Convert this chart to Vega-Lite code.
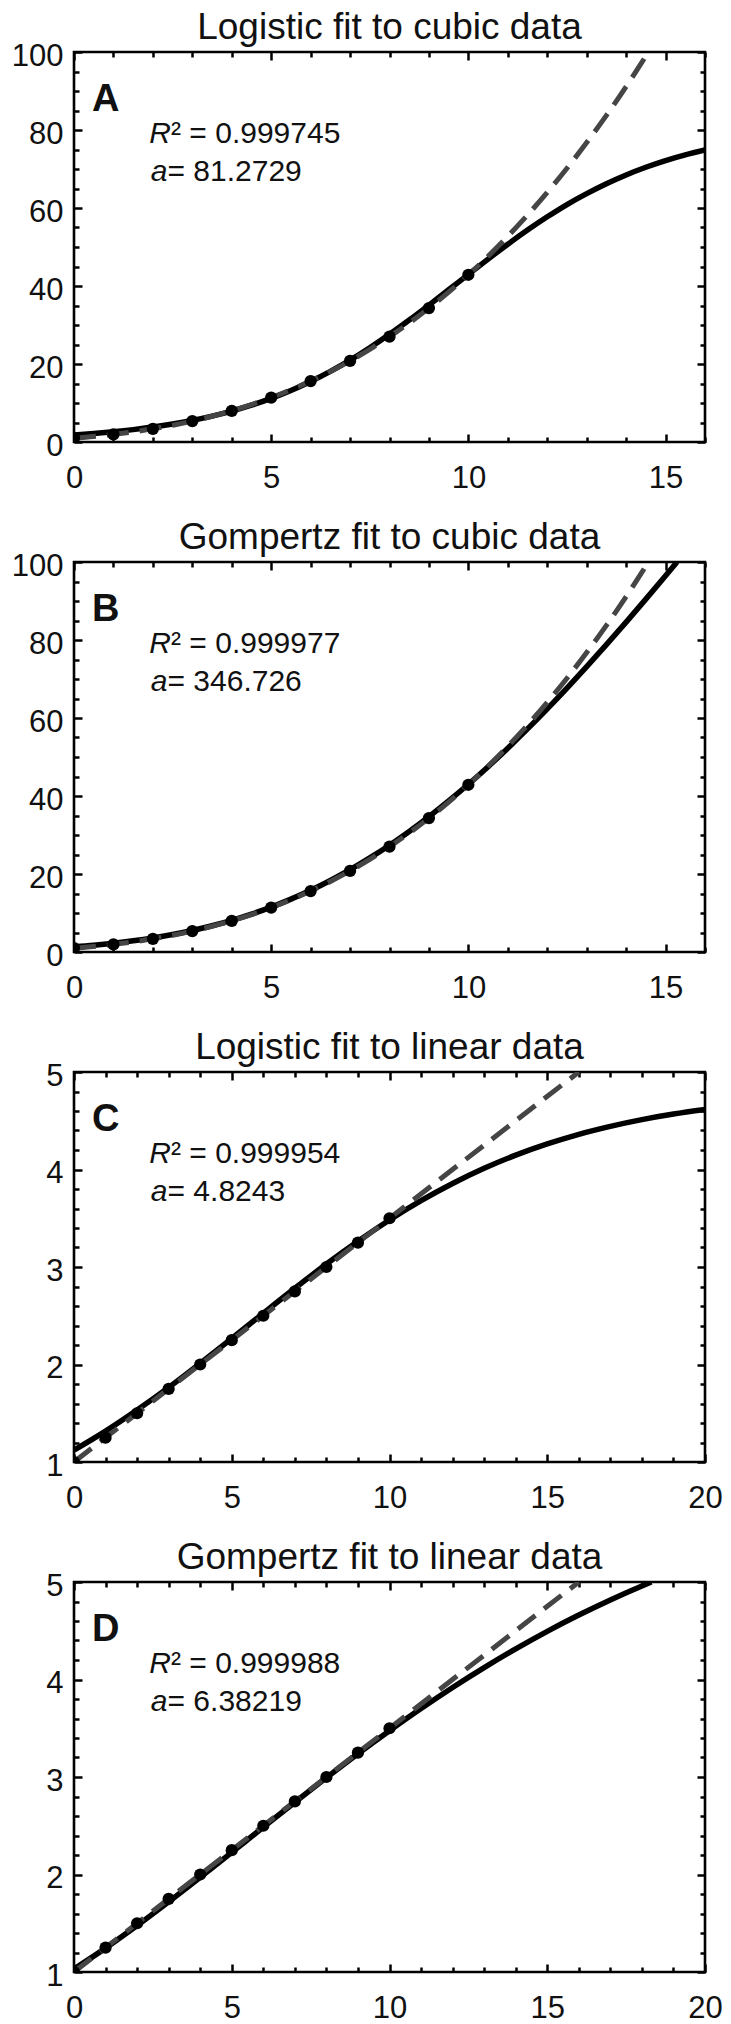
{
  "$schema": "https://vega.github.io/schema/vega-lite/v6.json",
  "background": "white",
  "padding": {"left": 9, "top": 7, "right": 5, "bottom": 5},
  "datasets": {
    "cubic": [{"x":0,"y":1},{"x":1,"y":1.953},{"x":2,"y":3.375},{"x":3,"y":5.359},{"x":4,"y":8},{"x":5,"y":11.391},{"x":6,"y":15.625},{"x":7,"y":20.797},{"x":8,"y":27},{"x":9,"y":34.328},{"x":10,"y":42.875}],
    "linear": [{"x":0,"y":1},{"x":1,"y":1.25},{"x":2,"y":1.5},{"x":3,"y":1.75},{"x":4,"y":2},{"x":5,"y":2.25},{"x":6,"y":2.5},{"x":7,"y":2.75},{"x":8,"y":3},{"x":9,"y":3.25},{"x":10,"y":3.5}],
    "cubicTrue": [{"x":0,"y":1},{"x":0.5,"y":1.424},{"x":1,"y":1.953},{"x":1.5,"y":2.6},{"x":2,"y":3.375},{"x":2.5,"y":4.291},{"x":3,"y":5.359},{"x":3.5,"y":6.592},{"x":4,"y":8},{"x":4.5,"y":9.596},{"x":5,"y":11.391},{"x":5.5,"y":13.396},{"x":6,"y":15.625},{"x":6.5,"y":18.088},{"x":7,"y":20.797},{"x":7.5,"y":23.764},{"x":8,"y":27},{"x":8.5,"y":30.518},{"x":9,"y":34.328},{"x":9.5,"y":38.443},{"x":10,"y":42.875},{"x":10.5,"y":47.635},{"x":11,"y":52.734},{"x":11.5,"y":58.186},{"x":12,"y":64},{"x":12.5,"y":70.189},{"x":13,"y":76.766},{"x":13.5,"y":83.74},{"x":14,"y":91.125},{"x":14.5,"y":98.931},{"x":14.57,"y":100}],
    "linearTrue": [{"x":0,"y":1},{"x":16,"y":5}],
    "fitA": [{"x":0,"y":1.8},{"x":0.5,"y":2.178},{"x":1,"y":2.632},{"x":1.5,"y":3.177},{"x":2,"y":3.83},{"x":2.5,"y":4.607},{"x":3,"y":5.532},{"x":3.5,"y":6.629},{"x":4,"y":7.919},{"x":4.5,"y":9.428},{"x":5,"y":11.18},{"x":5.5,"y":13.2},{"x":6,"y":15.5},{"x":6.5,"y":18.1},{"x":7,"y":20.99},{"x":7.5,"y":24.17},{"x":8,"y":27.61},{"x":8.5,"y":31.27},{"x":9,"y":35.11},{"x":9.5,"y":39.03},{"x":10,"y":43},{"x":10.5,"y":46.91},{"x":11,"y":50.71},{"x":11.5,"y":54.34},{"x":12,"y":57.74},{"x":12.5,"y":60.89},{"x":13,"y":63.69},{"x":13.5,"y":66.23},{"x":14,"y":68.48},{"x":14.5,"y":70.44},{"x":15,"y":72.15},{"x":15.5,"y":73.61},{"x":16,"y":74.87}],
    "fitB": [{"x":0,"y":1.34},{"x":0.5,"y":1.748},{"x":1,"y":2.252},{"x":1.5,"y":2.865},{"x":2,"y":3.601},{"x":2.5,"y":4.479},{"x":3,"y":5.512},{"x":3.5,"y":6.722},{"x":4,"y":8.112},{"x":4.5,"y":9.709},{"x":5,"y":11.52},{"x":5.5,"y":13.55},{"x":6,"y":15.82},{"x":6.5,"y":18.34},{"x":7,"y":21.1},{"x":7.5,"y":24.12},{"x":8,"y":27.39},{"x":8.5,"y":30.92},{"x":9,"y":34.71},{"x":9.5,"y":38.74},{"x":10,"y":43.01},{"x":10.5,"y":47.52},{"x":11,"y":52.26},{"x":11.5,"y":57.2},{"x":12,"y":62.34},{"x":12.5,"y":67.67},{"x":13,"y":73.16},{"x":13.5,"y":78.8},{"x":14,"y":84.59},{"x":14.5,"y":90.49},{"x":15,"y":96.47},{"x":15.29,"y":100}],
    "fitC": [{"x":0,"y":1.122},{"x":1,"y":1.317},{"x":2,"y":1.533},{"x":3,"y":1.765},{"x":4,"y":2.012},{"x":5,"y":2.267},{"x":6,"y":2.526},{"x":7,"y":2.782},{"x":8,"y":3.03},{"x":9,"y":3.264},{"x":10,"y":3.482},{"x":11,"y":3.68},{"x":12,"y":3.856},{"x":13,"y":4.012},{"x":14,"y":4.147},{"x":15,"y":4.262},{"x":16,"y":4.361},{"x":17,"y":4.443},{"x":18,"y":4.512},{"x":19,"y":4.569},{"x":20,"y":4.616}],
    "fitD": [{"x":0,"y":1.03},{"x":1,"y":1.245},{"x":2,"y":1.476},{"x":3,"y":1.719},{"x":4,"y":1.97},{"x":5,"y":2.227},{"x":6,"y":2.485},{"x":7,"y":2.741},{"x":8,"y":2.993},{"x":9,"y":3.239},{"x":10,"y":3.475},{"x":11,"y":3.702},{"x":12,"y":3.918},{"x":13,"y":4.122},{"x":14,"y":4.314},{"x":15,"y":4.494},{"x":16,"y":4.661},{"x":17,"y":4.816},{"x":18,"y":4.959},{"x":18.3,"y":5}],
    "ann": [
      {"panel":"A","role":"letter","x":0.456,"y":84.87,"text":"A"},
      {"panel":"A","role":"lab","x":2.46,"y":76.67,"text":"R"},
      {"panel":"A","role":"val","x":2.46,"y":76.67,"text":"² = 0.999745"},
      {"panel":"A","role":"lab","x":2.371,"y":66.92,"text":"a"},
      {"panel":"A","role":"val","x":2.371,"y":66.92,"text":"= 81.2729"},
      {"panel":"B","role":"letter","x":0.456,"y":84.87,"text":"B"},
      {"panel":"B","role":"lab","x":2.46,"y":76.67,"text":"R"},
      {"panel":"B","role":"val","x":2.46,"y":76.67,"text":"² = 0.999977"},
      {"panel":"B","role":"lab","x":2.371,"y":66.92,"text":"a"},
      {"panel":"B","role":"val","x":2.371,"y":66.92,"text":"= 346.726"},
      {"panel":"C","role":"letter","x":0.57,"y":4.395,"text":"C"},
      {"panel":"C","role":"lab","x":3.074,"y":4.067,"text":"R"},
      {"panel":"C","role":"val","x":3.074,"y":4.067,"text":"² = 0.999954"},
      {"panel":"C","role":"lab","x":2.964,"y":3.677,"text":"a"},
      {"panel":"C","role":"val","x":2.964,"y":3.677,"text":"= 4.8243"},
      {"panel":"D","role":"letter","x":0.57,"y":4.395,"text":"D"},
      {"panel":"D","role":"lab","x":3.074,"y":4.067,"text":"R"},
      {"panel":"D","role":"val","x":3.074,"y":4.067,"text":"² = 0.999988"},
      {"panel":"D","role":"lab","x":2.964,"y":3.677,"text":"a"},
      {"panel":"D","role":"val","x":2.964,"y":3.677,"text":"= 6.38219"}
    ]
  },
  "spacing": 120,
  "bounds": "flush",
  "vconcat": [
    {
      "title": {"text": "Logistic fit to cubic data"},
      "width": 631, "height": 390,
      "layer": [
        {"data": {"name": "fitA"}, "mark": {"type": "line", "color": "#000", "strokeWidth": 5.5, "clip": true, "interpolate": "monotone"},
         "encoding": {
           "x": {"field": "x", "type": "quantitative", "scale": {"domain": [0, 16], "nice": false, "zero": false},
                 "axis": {"orient": "bottom", "values": [0,1,2,3,4,5,6,7,8,9,10,11,12,13,14,15,16], "tickSize": {"condition": {"test": "datum.value % 5 !== 0", "value": -5}, "value": -8}, "labelExpr": "datum.value % 5 === 0 ? datum.label : ''", "labelPadding": 29}},
           "y": {"field": "y", "type": "quantitative", "scale": {"domain": [0, 100], "nice": false, "zero": false},
                 "axis": {"orient": "left", "values": [0,5,10,15,20,25,30,35,40,45,50,55,60,65,70,75,80,85,90,95,100], "tickSize": {"condition": {"test": "datum.value % 20 !== 0", "value": -5}, "value": -8}, "labelExpr": "datum.value % 20 === 0 ? datum.label : ''", "labelPadding": 19, "labelOffset": 4}}
         }},
        {"data": {"name": "cubicTrue"}, "mark": {"type": "line", "color": "#454545", "strokeWidth": 5, "strokeDash": [22, 11], "clip": true, "interpolate": "monotone"},
         "encoding": {
           "x": {"field": "x", "type": "quantitative", "axis": {"orient": "top", "values": [0,1,2,3,4,5,6,7,8,9,10,11,12,13,14,15,16], "tickSize": {"condition": {"test": "datum.value % 5 !== 0", "value": -5}, "value": -8}, "labels": false}},
           "y": {"field": "y", "type": "quantitative", "axis": {"orient": "right", "values": [0,5,10,15,20,25,30,35,40,45,50,55,60,65,70,75,80,85,90,95,100], "tickSize": {"condition": {"test": "datum.value % 20 !== 0", "value": -5}, "value": -8}, "labels": false}}
         }},
        {"data": {"name": "cubic"}, "mark": {"type": "circle", "size": 150, "opacity": 1, "color": "#000", "clip": true},
         "encoding": {"x": {"field": "x", "type": "quantitative", "axis": null}, "y": {"field": "y", "type": "quantitative", "axis": null}}},
        {"data": {"name": "ann"}, "transform": [{"filter": "datum.panel === 'A' && datum.role === 'letter'"}],
         "mark": {"type": "text", "font": "Liberation Sans", "fontWeight": "bold", "fontSize": 38, "align": "left", "baseline": "alphabetic", "color": "#111"},
         "encoding": {"x": {"field": "x", "type": "quantitative", "axis": null}, "y": {"field": "y", "type": "quantitative", "axis": null}, "text": {"field": "text"}}},
        {"data": {"name": "ann"}, "transform": [{"filter": "datum.panel === 'A' && datum.role === 'lab'"}],
         "mark": {"type": "text", "font": "Liberation Sans", "fontStyle": "italic", "fontSize": 30, "align": "right", "baseline": "alphabetic", "color": "#111"},
         "encoding": {"x": {"field": "x", "type": "quantitative", "axis": null}, "y": {"field": "y", "type": "quantitative", "axis": null}, "text": {"field": "text"}}},
        {"data": {"name": "ann"}, "transform": [{"filter": "datum.panel === 'A' && datum.role === 'val'"}],
         "mark": {"type": "text", "font": "Liberation Sans", "fontSize": 30, "align": "left", "baseline": "alphabetic", "color": "#111"},
         "encoding": {"x": {"field": "x", "type": "quantitative", "axis": null}, "y": {"field": "y", "type": "quantitative", "axis": null}, "text": {"field": "text"}}}
      ]
    },
    {
      "title": {"text": "Gompertz fit to cubic data"},
      "width": 631, "height": 390,
      "layer": [
        {"data": {"name": "fitB"}, "mark": {"type": "line", "color": "#000", "strokeWidth": 5.5, "clip": true, "interpolate": "monotone"},
         "encoding": {
           "x": {"field": "x", "type": "quantitative", "scale": {"domain": [0, 16], "nice": false, "zero": false},
                 "axis": {"orient": "bottom", "values": [0,1,2,3,4,5,6,7,8,9,10,11,12,13,14,15,16], "tickSize": {"condition": {"test": "datum.value % 5 !== 0", "value": -5}, "value": -8}, "labelExpr": "datum.value % 5 === 0 ? datum.label : ''", "labelPadding": 29}},
           "y": {"field": "y", "type": "quantitative", "scale": {"domain": [0, 100], "nice": false, "zero": false},
                 "axis": {"orient": "left", "values": [0,5,10,15,20,25,30,35,40,45,50,55,60,65,70,75,80,85,90,95,100], "tickSize": {"condition": {"test": "datum.value % 20 !== 0", "value": -5}, "value": -8}, "labelExpr": "datum.value % 20 === 0 ? datum.label : ''", "labelPadding": 19, "labelOffset": 4}}
         }},
        {"data": {"name": "cubicTrue"}, "mark": {"type": "line", "color": "#454545", "strokeWidth": 5, "strokeDash": [22, 11], "clip": true, "interpolate": "monotone"},
         "encoding": {
           "x": {"field": "x", "type": "quantitative", "axis": {"orient": "top", "values": [0,1,2,3,4,5,6,7,8,9,10,11,12,13,14,15,16], "tickSize": {"condition": {"test": "datum.value % 5 !== 0", "value": -5}, "value": -8}, "labels": false}},
           "y": {"field": "y", "type": "quantitative", "axis": {"orient": "right", "values": [0,5,10,15,20,25,30,35,40,45,50,55,60,65,70,75,80,85,90,95,100], "tickSize": {"condition": {"test": "datum.value % 20 !== 0", "value": -5}, "value": -8}, "labels": false}}
         }},
        {"data": {"name": "cubic"}, "mark": {"type": "circle", "size": 150, "opacity": 1, "color": "#000", "clip": true},
         "encoding": {"x": {"field": "x", "type": "quantitative", "axis": null}, "y": {"field": "y", "type": "quantitative", "axis": null}}},
        {"data": {"name": "ann"}, "transform": [{"filter": "datum.panel === 'B' && datum.role === 'letter'"}],
         "mark": {"type": "text", "font": "Liberation Sans", "fontWeight": "bold", "fontSize": 38, "align": "left", "baseline": "alphabetic", "color": "#111"},
         "encoding": {"x": {"field": "x", "type": "quantitative", "axis": null}, "y": {"field": "y", "type": "quantitative", "axis": null}, "text": {"field": "text"}}},
        {"data": {"name": "ann"}, "transform": [{"filter": "datum.panel === 'B' && datum.role === 'lab'"}],
         "mark": {"type": "text", "font": "Liberation Sans", "fontStyle": "italic", "fontSize": 30, "align": "right", "baseline": "alphabetic", "color": "#111"},
         "encoding": {"x": {"field": "x", "type": "quantitative", "axis": null}, "y": {"field": "y", "type": "quantitative", "axis": null}, "text": {"field": "text"}}},
        {"data": {"name": "ann"}, "transform": [{"filter": "datum.panel === 'B' && datum.role === 'val'"}],
         "mark": {"type": "text", "font": "Liberation Sans", "fontSize": 30, "align": "left", "baseline": "alphabetic", "color": "#111"},
         "encoding": {"x": {"field": "x", "type": "quantitative", "axis": null}, "y": {"field": "y", "type": "quantitative", "axis": null}, "text": {"field": "text"}}}
      ]
    },
    {
      "title": {"text": "Logistic fit to linear data"},
      "width": 631, "height": 390,
      "layer": [
        {"data": {"name": "fitC"}, "mark": {"type": "line", "color": "#000", "strokeWidth": 5.5, "clip": true, "interpolate": "monotone"},
         "encoding": {
           "x": {"field": "x", "type": "quantitative", "scale": {"domain": [0, 20], "nice": false, "zero": false},
                 "axis": {"orient": "bottom", "values": [0,1,2,3,4,5,6,7,8,9,10,11,12,13,14,15,16,17,18,19,20], "tickSize": {"condition": {"test": "datum.value % 5 !== 0", "value": -5}, "value": -8}, "labelExpr": "datum.value % 5 === 0 ? datum.label : ''", "labelPadding": 29}},
           "y": {"field": "y", "type": "quantitative", "scale": {"domain": [1, 5], "nice": false, "zero": false},
                 "axis": {"orient": "left", "values": [1,1.2,1.4,1.6,1.8,2,2.2,2.4,2.6,2.8,3,3.2,3.4,3.6,3.8,4,4.2,4.4,4.6,4.8,5], "tickSize": {"condition": {"test": "abs(datum.value - round(datum.value)) > 0.001", "value": -5}, "value": -8}, "labelExpr": "abs(datum.value - round(datum.value)) < 0.001 ? '' + round(datum.value) : ''", "labelPadding": 19, "labelOffset": 4}}
         }},
        {"data": {"name": "linearTrue"}, "mark": {"type": "line", "color": "#454545", "strokeWidth": 5, "strokeDash": [22, 11], "clip": true},
         "encoding": {
           "x": {"field": "x", "type": "quantitative", "axis": {"orient": "top", "values": [0,1,2,3,4,5,6,7,8,9,10,11,12,13,14,15,16,17,18,19,20], "tickSize": {"condition": {"test": "datum.value % 5 !== 0", "value": -5}, "value": -8}, "labels": false}},
           "y": {"field": "y", "type": "quantitative", "axis": {"orient": "right", "values": [1,1.2,1.4,1.6,1.8,2,2.2,2.4,2.6,2.8,3,3.2,3.4,3.6,3.8,4,4.2,4.4,4.6,4.8,5], "tickSize": {"condition": {"test": "abs(datum.value - round(datum.value)) > 0.001", "value": -5}, "value": -8}, "labels": false}}
         }},
        {"data": {"name": "linear"}, "mark": {"type": "circle", "size": 150, "opacity": 1, "color": "#000", "clip": true},
         "encoding": {"x": {"field": "x", "type": "quantitative", "axis": null}, "y": {"field": "y", "type": "quantitative", "axis": null}}},
        {"data": {"name": "ann"}, "transform": [{"filter": "datum.panel === 'C' && datum.role === 'letter'"}],
         "mark": {"type": "text", "font": "Liberation Sans", "fontWeight": "bold", "fontSize": 38, "align": "left", "baseline": "alphabetic", "color": "#111"},
         "encoding": {"x": {"field": "x", "type": "quantitative", "axis": null}, "y": {"field": "y", "type": "quantitative", "axis": null}, "text": {"field": "text"}}},
        {"data": {"name": "ann"}, "transform": [{"filter": "datum.panel === 'C' && datum.role === 'lab'"}],
         "mark": {"type": "text", "font": "Liberation Sans", "fontStyle": "italic", "fontSize": 30, "align": "right", "baseline": "alphabetic", "color": "#111"},
         "encoding": {"x": {"field": "x", "type": "quantitative", "axis": null}, "y": {"field": "y", "type": "quantitative", "axis": null}, "text": {"field": "text"}}},
        {"data": {"name": "ann"}, "transform": [{"filter": "datum.panel === 'C' && datum.role === 'val'"}],
         "mark": {"type": "text", "font": "Liberation Sans", "fontSize": 30, "align": "left", "baseline": "alphabetic", "color": "#111"},
         "encoding": {"x": {"field": "x", "type": "quantitative", "axis": null}, "y": {"field": "y", "type": "quantitative", "axis": null}, "text": {"field": "text"}}}
      ]
    },
    {
      "title": {"text": "Gompertz fit to linear data"},
      "width": 631, "height": 390,
      "layer": [
        {"data": {"name": "fitD"}, "mark": {"type": "line", "color": "#000", "strokeWidth": 5.5, "clip": true, "interpolate": "monotone"},
         "encoding": {
           "x": {"field": "x", "type": "quantitative", "scale": {"domain": [0, 20], "nice": false, "zero": false},
                 "axis": {"orient": "bottom", "values": [0,1,2,3,4,5,6,7,8,9,10,11,12,13,14,15,16,17,18,19,20], "tickSize": {"condition": {"test": "datum.value % 5 !== 0", "value": -5}, "value": -8}, "labelExpr": "datum.value % 5 === 0 ? datum.label : ''", "labelPadding": 29}},
           "y": {"field": "y", "type": "quantitative", "scale": {"domain": [1, 5], "nice": false, "zero": false},
                 "axis": {"orient": "left", "values": [1,1.2,1.4,1.6,1.8,2,2.2,2.4,2.6,2.8,3,3.2,3.4,3.6,3.8,4,4.2,4.4,4.6,4.8,5], "tickSize": {"condition": {"test": "abs(datum.value - round(datum.value)) > 0.001", "value": -5}, "value": -8}, "labelExpr": "abs(datum.value - round(datum.value)) < 0.001 ? '' + round(datum.value) : ''", "labelPadding": 19, "labelOffset": 4}}
         }},
        {"data": {"name": "linearTrue"}, "mark": {"type": "line", "color": "#454545", "strokeWidth": 5, "strokeDash": [22, 11], "clip": true},
         "encoding": {
           "x": {"field": "x", "type": "quantitative", "axis": {"orient": "top", "values": [0,1,2,3,4,5,6,7,8,9,10,11,12,13,14,15,16,17,18,19,20], "tickSize": {"condition": {"test": "datum.value % 5 !== 0", "value": -5}, "value": -8}, "labels": false}},
           "y": {"field": "y", "type": "quantitative", "axis": {"orient": "right", "values": [1,1.2,1.4,1.6,1.8,2,2.2,2.4,2.6,2.8,3,3.2,3.4,3.6,3.8,4,4.2,4.4,4.6,4.8,5], "tickSize": {"condition": {"test": "abs(datum.value - round(datum.value)) > 0.001", "value": -5}, "value": -8}, "labels": false}}
         }},
        {"data": {"name": "linear"}, "mark": {"type": "circle", "size": 150, "opacity": 1, "color": "#000", "clip": true},
         "encoding": {"x": {"field": "x", "type": "quantitative", "axis": null}, "y": {"field": "y", "type": "quantitative", "axis": null}}},
        {"data": {"name": "ann"}, "transform": [{"filter": "datum.panel === 'D' && datum.role === 'letter'"}],
         "mark": {"type": "text", "font": "Liberation Sans", "fontWeight": "bold", "fontSize": 38, "align": "left", "baseline": "alphabetic", "color": "#111"},
         "encoding": {"x": {"field": "x", "type": "quantitative", "axis": null}, "y": {"field": "y", "type": "quantitative", "axis": null}, "text": {"field": "text"}}},
        {"data": {"name": "ann"}, "transform": [{"filter": "datum.panel === 'D' && datum.role === 'lab'"}],
         "mark": {"type": "text", "font": "Liberation Sans", "fontStyle": "italic", "fontSize": 30, "align": "right", "baseline": "alphabetic", "color": "#111"},
         "encoding": {"x": {"field": "x", "type": "quantitative", "axis": null}, "y": {"field": "y", "type": "quantitative", "axis": null}, "text": {"field": "text"}}},
        {"data": {"name": "ann"}, "transform": [{"filter": "datum.panel === 'D' && datum.role === 'val'"}],
         "mark": {"type": "text", "font": "Liberation Sans", "fontSize": 30, "align": "left", "baseline": "alphabetic", "color": "#111"},
         "encoding": {"x": {"field": "x", "type": "quantitative", "axis": null}, "y": {"field": "y", "type": "quantitative", "axis": null}, "text": {"field": "text"}}}
      ]
    }
  ],
  "config": {
    "view": {"stroke": "#000", "strokeWidth": 2.6},
    "axis": {"domain": false, "grid": false, "ticks": true, "tickColor": "#000", "tickWidth": 2.5, "labelFont": "Liberation Sans", "labelFontSize": 31, "labelColor": "#111", "labelFlush": false, "labelOverlap": false, "labelBound": false, "title": null},
    "title": {"font": "Liberation Sans", "fontSize": 37, "fontWeight": "normal", "color": "#111", "anchor": "middle", "frame": "group", "baseline": "alphabetic", "offset": -7}
  }
}
